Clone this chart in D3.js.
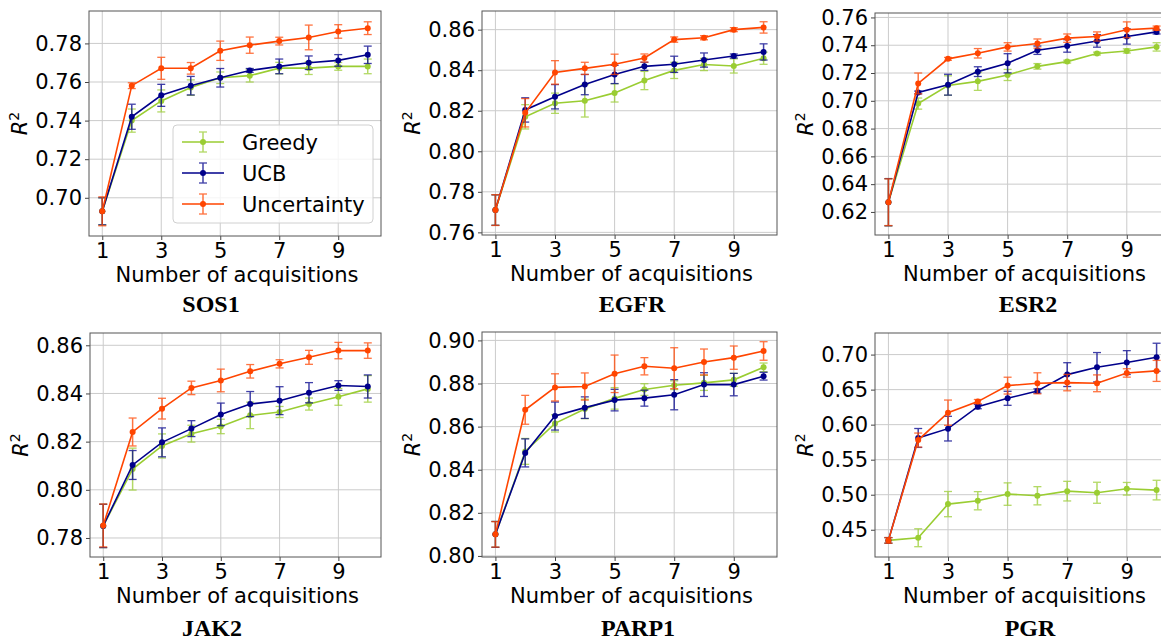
<!DOCTYPE html>
<html>
<head>
<meta charset="utf-8">
<script src="https://cdn.jsdelivr.net/npm/d3@7"></script>
<style>
  body { margin: 0; background: #fff; }
  text { font-family: "DejaVu Sans", sans-serif; fill: #000; }
  .title { font-family: "Liberation Serif", "Times New Roman", serif; font-weight: bold; }
</style>
</head>
<body>
<svg id="chart" width="1161" height="640"></svg>
<script>
// x values and tick labels
const acquisitions = [1, 2, 3, 4, 5, 6, 7, 8, 9, 10];
const xTicks = [1, 3, 5, 7, 9];
const strategies = ["Greedy", "UCB", "Uncertainty"];
const colors = ["#9acd32", "#00008b", "#ff4500"];

// mean R^2 per strategy (Greedy, UCB, Uncertainty) and error bars
const sos1Mean = [
  [0.693, 0.740, 0.7502, 0.7571, 0.7622, 0.7633, 0.7672, 0.7672, 0.7681, 0.7681],
  [0.693, 0.742, 0.7531, 0.7581, 0.7622, 0.766, 0.7681, 0.770, 0.7712, 0.7741],
  [0.693, 0.7581, 0.7671, 0.7671, 0.7762, 0.7791, 0.7812, 0.7831, 0.7862, 0.7879]
];
const sos1Err = [
  [0.007, 0.006, 0.0057, 0.004, 0.003, 0.0033, 0.003, 0.0033, 0.002, 0.0038],
  [0.007, 0.0065, 0.0057, 0.0048, 0.0048, 0.001, 0.0038, 0.0035, 0.003, 0.0045],
  [0.0075, 0.0015, 0.0057, 0.003, 0.005, 0.0042, 0.002, 0.0064, 0.0035, 0.0033]
];
const egfrMean = [
  [0.771, 0.817, 0.8237, 0.8249, 0.8288, 0.8349, 0.8399, 0.8428, 0.8421, 0.8459],
  [0.771, 0.8204, 0.8269, 0.8329, 0.8379, 0.8419, 0.8429, 0.845, 0.847, 0.849],
  [0.771, 0.819, 0.8389, 0.8409, 0.8429, 0.846, 0.8551, 0.856, 0.860, 0.8611]
];
const egfrErr = [
  [0.0075, 0.006, 0.005, 0.008, 0.0045, 0.0045, 0.004, 0.003, 0.0035, 0.003],
  [0.0075, 0.006, 0.006, 0.005, 0.0045, 0.002, 0.004, 0.0035, 0.001, 0.004],
  [0.0076, 0.007, 0.0058, 0.003, 0.005, 0.002, 0.0013, 0.001, 0.001, 0.0028]
];
const esr2Mean = [
  [0.627, 0.698, 0.711, 0.714, 0.7186, 0.7248, 0.7282, 0.734, 0.7359, 0.7388],
  [0.627, 0.706, 0.7116, 0.721, 0.727, 0.7364, 0.7395, 0.7431, 0.7463, 0.7496],
  [0.627, 0.7125, 0.7302, 0.7342, 0.7388, 0.7412, 0.7451, 0.7463, 0.7511, 0.7523]
];
const esr2Err = [
  [0.017, 0.004, 0.007, 0.0065, 0.004, 0.002, 0.001, 0.001, 0.0015, 0.003],
  [0.017, 0.001, 0.0075, 0.0035, 0.0069, 0.003, 0.0045, 0.0045, 0.0055, 0.0015],
  [0.0168, 0.0075, 0.001, 0.0034, 0.003, 0.0033, 0.003, 0.0033, 0.0057, 0.0015]
];
const jak2Mean = [
  [0.785, 0.8086, 0.8182, 0.8233, 0.8263, 0.8309, 0.8323, 0.8356, 0.8386, 0.8419],
  [0.785, 0.8103, 0.8197, 0.8254, 0.8313, 0.8356, 0.837, 0.8403, 0.8433, 0.8429],
  [0.7852, 0.824, 0.8337, 0.8423, 0.8454, 0.8492, 0.8523, 0.855, 0.8578, 0.8578]
];
const jak2Err = [
  [0.009, 0.0087, 0.005, 0.0035, 0.003, 0.0055, 0.0023, 0.0025, 0.0035, 0.0055],
  [0.009, 0.006, 0.006, 0.0033, 0.0047, 0.0052, 0.0058, 0.0042, 0.002, 0.0048],
  [0.0089, 0.0058, 0.0043, 0.0028, 0.0047, 0.0028, 0.0017, 0.0029, 0.0034, 0.0032]
];
const parp1Mean = [
  [0.810, 0.8485, 0.8615, 0.8682, 0.8731, 0.8772, 0.8792, 0.8803, 0.8817, 0.8875],
  [0.810, 0.8478, 0.8649, 0.8688, 0.8723, 0.8732, 0.8748, 0.8795, 0.8795, 0.8834],
  [0.810, 0.8678, 0.8782, 0.8786, 0.8845, 0.888, 0.8871, 0.890, 0.892, 0.8951]
];
const parp1Err = [
  [0.006, 0.006, 0.004, 0.0045, 0.005, 0.0027, 0.002, 0.0035, 0.003, 0.002],
  [0.006, 0.0065, 0.0065, 0.005, 0.005, 0.0037, 0.007, 0.0055, 0.0052, 0.0018],
  [0.0059, 0.0067, 0.0063, 0.0063, 0.0087, 0.004, 0.0095, 0.006, 0.0054, 0.0043]
];
const pgrMean = [
  [0.4348, 0.4386, 0.4866, 0.4914, 0.5009, 0.4985, 0.5051, 0.5028, 0.5085, 0.5066],
  [0.4348, 0.581, 0.5943, 0.6257, 0.6376, 0.6481, 0.6714, 0.6819, 0.6886, 0.6962],
  [0.4348, 0.578, 0.6171, 0.6329, 0.6557, 0.659, 0.660, 0.659, 0.6738, 0.6767]
];
const pgrErr = [
  [0.004, 0.0128, 0.018, 0.013, 0.016, 0.013, 0.014, 0.015, 0.009, 0.014],
  [0.004, 0.0135, 0.0176, 0.003, 0.01, 0.003, 0.017, 0.021, 0.017, 0.02],
  [0.004, 0.01, 0.018, 0.003, 0.012, 0.015, 0.0117, 0.012, 0.006, 0.015]
];

// y tick values per panel
const sos1Ticks = [0.70, 0.72, 0.74, 0.76, 0.78];
const egfrTicks = [0.76, 0.78, 0.80, 0.82, 0.84, 0.86];
const esr2Ticks = [0.62, 0.64, 0.66, 0.68, 0.70, 0.72, 0.74, 0.76];
const jak2Ticks = [0.78, 0.80, 0.82, 0.84, 0.86];
const parp1Ticks = [0.80, 0.82, 0.84, 0.86, 0.88, 0.90];
const pgrTicks = [0.45, 0.50, 0.55, 0.60, 0.65, 0.70];

// panel layout
const panels = [
  { name: "SOS1", mean: sos1Mean, err: sos1Err, ticks: sos1Ticks, yDom: [0.6802, 0.7968], box: [89, 11, 381, 236], tx: 211, ty: 312, legend: true },
  { name: "EGFR", mean: egfrMean, err: egfrErr, ticks: egfrTicks, yDom: [0.7587, 0.8692], box: [482, 11, 777, 235], tx: 632, ty: 312 },
  { name: "ESR2", mean: esr2Mean, err: esr2Err, ticks: esr2Ticks, yDom: [0.6034, 0.7632], box: [875, 13, 1170, 235], tx: 1028, ty: 312 },
  { name: "JAK2", mean: jak2Mean, err: jak2Err, ticks: jak2Ticks, yDom: [0.7721, 0.8651], box: [90, 333, 381, 557], tx: 212, ty: 636 },
  { name: "PARP1", mean: parp1Mean, err: parp1Err, ticks: parp1Ticks, yDom: [0.7995, 0.9039], box: [482, 332, 777, 557], tx: 638, ty: 636 },
  { name: "PGR", mean: pgrMean, err: pgrErr, ticks: pgrTicks, yDom: [0.4111, 0.7308], box: [875, 333, 1170, 557], tx: 1030, ty: 636 }
];

const svg = d3.select("#chart");
const fs = 21;

panels.forEach(p => {
  const [x0, y0, x1, y1] = p.box;
  const x = d3.scaleLinear().domain([0.55, 10.45]).range([x0, x1]);
  const y = d3.scaleLinear().domain(p.yDom).range([y1, y0]);
  const g = svg.append("g");

  // grid
  g.selectAll(".gx").data(xTicks).join("line")
    .attr("x1", d => x(d)).attr("x2", d => x(d)).attr("y1", y0).attr("y2", y1)
    .attr("stroke", "#cbcbcb").attr("stroke-width", 1);
  g.selectAll(".gy").data(p.ticks).join("line")
    .attr("x1", x0).attr("x2", x1).attr("y1", d => y(d)).attr("y2", d => y(d))
    .attr("stroke", "#cbcbcb").attr("stroke-width", 1);

  // axes
  const xAxis = g.append("g").attr("transform", `translate(0,${y1})`)
    .call(d3.axisBottom(x).tickValues(xTicks).tickSize(4).tickPadding(3).tickFormat(d3.format("d")));
  const yAxis = g.append("g").attr("transform", `translate(${x0},0)`)
    .call(d3.axisLeft(y).tickValues(p.ticks).tickSize(4).tickPadding(3).tickFormat(d3.format(".2f")));
  [xAxis, yAxis].forEach(a => {
    a.select(".domain").remove();
    a.selectAll(".tick line").attr("stroke", "#444");
    a.selectAll(".tick text").style("font-size", fs + "px").attr("font-family", "DejaVu Sans");
  });

  // series
  const line = d3.line().x((d, i) => x(acquisitions[i])).y(d => y(d));
  strategies.forEach((s, k) => {
    const c = colors[k];
    const sg = g.append("g");
    const m = p.mean[k], e = p.err[k];
    sg.append("path").datum(m).attr("d", line)
      .attr("fill", "none").attr("stroke", c).attr("stroke-width", 1.6);
    const bars = sg.selectAll(".eb").data(m).join("g").attr("opacity", 0.75);
    bars.append("line")
      .attr("x1", (d, i) => x(acquisitions[i])).attr("x2", (d, i) => x(acquisitions[i]))
      .attr("y1", (d, i) => y(d - e[i])).attr("y2", (d, i) => y(d + e[i]))
      .attr("stroke", c).attr("stroke-width", 1.5);
    [-1, 1].forEach(sgn => {
      bars.append("line")
        .attr("x1", (d, i) => x(acquisitions[i]) - 4).attr("x2", (d, i) => x(acquisitions[i]) + 4)
        .attr("y1", (d, i) => y(d + sgn * e[i])).attr("y2", (d, i) => y(d + sgn * e[i]))
        .attr("stroke", c).attr("stroke-width", 1.3);
    });
    sg.selectAll("circle").data(m).join("circle")
      .attr("cx", (d, i) => x(acquisitions[i])).attr("cy", d => y(d))
      .attr("r", 3).attr("fill", c);
  });

  // frame
  g.append("rect").attr("x", x0).attr("y", y0).attr("width", x1 - x0).attr("height", y1 - y0)
    .attr("fill", "none").attr("stroke", "#555").attr("stroke-width", 1);

  // labels
  g.append("text").attr("x", (x0 + x1) / 2 + 2).attr("y", y1 + 46)
    .attr("text-anchor", "middle").style("font-size", fs + "px").text("Number of acquisitions");
  const yl = g.append("text")
    .attr("transform", `translate(${x0 - 62},${(y0 + y1) / 2}) rotate(-90)`)
    .attr("text-anchor", "middle").style("font-size", fs + "px");
  yl.append("tspan").attr("font-style", "italic").text("R");
  yl.append("tspan").attr("dy", -8).style("font-size", "14px").text("2");
  g.append("text").attr("class", "title").attr("x", p.tx).attr("y", p.ty)
    .attr("text-anchor", "middle").style("font-size", "24px").text(p.name);

  // legend
  if (p.legend) {
    const lg = g.append("g");
    lg.append("rect").attr("x", 173).attr("y", 125).attr("width", 200).attr("height", 98)
      .attr("rx", 4).attr("fill", "#fff").attr("fill-opacity", 0.8).attr("stroke", "#d0d0d0");
    strategies.forEach((s, k) => {
      const ly = 142 + k * 31;
      const c = colors[k];
      lg.append("line").attr("x1", 182).attr("x2", 224).attr("y1", ly).attr("y2", ly)
        .attr("stroke", c).attr("stroke-width", 1.6);
      const eb = lg.append("g").attr("opacity", 0.75);
      eb.append("line").attr("x1", 203).attr("x2", 203).attr("y1", ly - 10).attr("y2", ly + 10)
        .attr("stroke", c).attr("stroke-width", 1.5);
      [-10, 10].forEach(o => eb.append("line").attr("x1", 199).attr("x2", 207)
        .attr("y1", ly + o).attr("y2", ly + o).attr("stroke", c).attr("stroke-width", 1.3));
      lg.append("circle").attr("cx", 203).attr("cy", ly).attr("r", 3).attr("fill", c);
      lg.append("text").attr("x", 242).attr("y", ly).attr("dy", "0.36em")
        .style("font-size", fs + "px").text(s);
    });
  }
});
</script>
</body>
</html>
